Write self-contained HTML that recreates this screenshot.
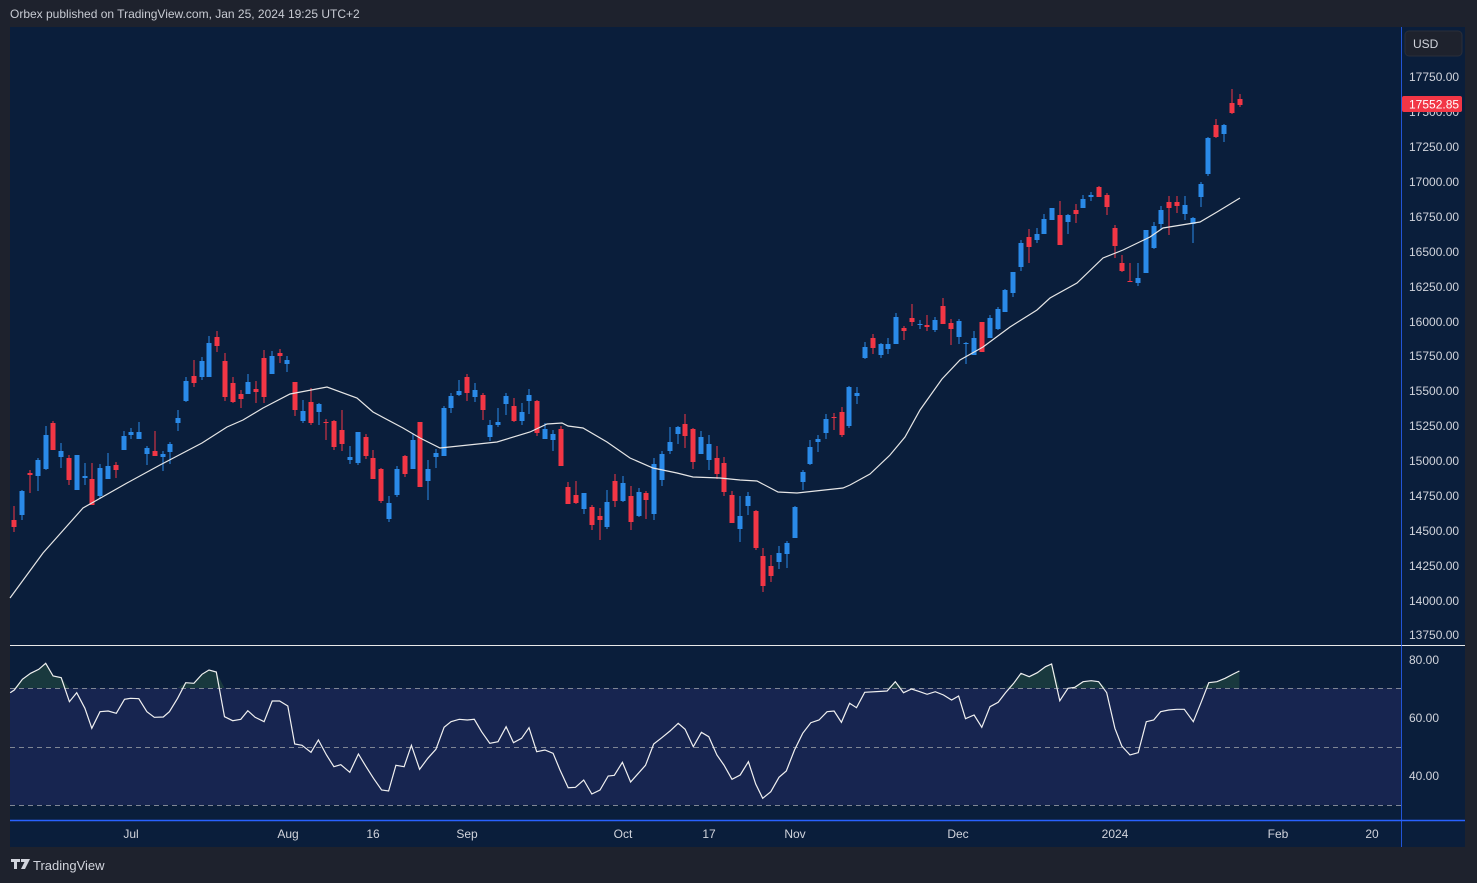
<!DOCTYPE html>
<html><head><meta charset="utf-8"><style>
html,body{margin:0;padding:0;background:#1e222d;width:1477px;height:883px;overflow:hidden;font-family:"Liberation Sans",sans-serif}
svg{position:absolute;left:0;top:0}
</style></head><body>
<svg id="s" width="1477" height="883" xmlns="http://www.w3.org/2000/svg">
<rect x="0" y="0" width="1477" height="883" fill="#1e222d"/>
<text x="10" y="18" fill="#c8cbd3" font-size="12" font-family="Liberation Sans, sans-serif">Orbex published on TradingView.com, Jan 25, 2024 19:25 UTC+2</text>
<rect x="10" y="27" width="1455" height="820" fill="#0a1e3b"/>
<rect x="10" y="688" width="1391" height="117" fill="#172550"/>
<g id="rsiob"></g>
<g stroke="#7f8694" stroke-dasharray="5,4" stroke-width="1">
<line x1="10" y1="688.5" x2="1401" y2="688.5"/>
<line x1="10" y1="747.5" x2="1401" y2="747.5"/>
<line x1="10" y1="805.5" x2="1401" y2="805.5"/>
</g>
<line x1="10" y1="645.5" x2="1465" y2="645.5" stroke="#e8e8e8" stroke-width="1"/>
<line x1="10" y1="820.5" x2="1465" y2="820.5" stroke="#2962ff" stroke-width="1.5"/>
<line x1="1401.5" y1="27" x2="1401.5" y2="847" stroke="#2962ff" stroke-width="1" opacity="0.8"/>
<g id="cand"></g>
<polyline id="ma" fill="none" stroke="#e6e6e6" stroke-width="1.2"/>
<polyline id="rsi" fill="none" stroke="#f0f0f0" stroke-width="1.2"/>
<g font-size="12" fill="#d1d4dc" font-family="Liberation Sans, sans-serif">
<text x="1409" y="81">17750.00</text>
<text x="1409" y="116">17500.00</text>
<text x="1409" y="151">17250.00</text>
<text x="1409" y="186">17000.00</text>
<text x="1409" y="221">16750.00</text>
<text x="1409" y="256">16500.00</text>
<text x="1409" y="291">16250.00</text>
<text x="1409" y="326">16000.00</text>
<text x="1409" y="360">15750.00</text>
<text x="1409" y="395">15500.00</text>
<text x="1409" y="430">15250.00</text>
<text x="1409" y="465">15000.00</text>
<text x="1409" y="500">14750.00</text>
<text x="1409" y="535">14500.00</text>
<text x="1409" y="570">14250.00</text>
<text x="1409" y="605">14000.00</text>
<text x="1409" y="639">13750.00</text>
<text x="1409" y="664">80.00</text>
<text x="1409" y="722">60.00</text>
<text x="1409" y="780">40.00</text>
</g>
<rect x="1405" y="31" width="57" height="25" rx="4" fill="#1e222d" stroke="#2a2e39"/>
<text x="1413" y="48" font-size="12" fill="#d1d4dc">USD</text>
<rect x="1402" y="96" width="60" height="16" rx="2" fill="#f23645"/>
<text x="1409" y="108.5" font-size="12" fill="#ffffff">17552.85</text>
<g font-size="12" fill="#d1d4dc" text-anchor="middle">
<text x="131" y="838">Jul</text><text x="288" y="838">Aug</text><text x="373" y="838">16</text>
<text x="467" y="838">Sep</text><text x="623" y="838">Oct</text><text x="709" y="838">17</text>
<text x="795" y="838">Nov</text><text x="958" y="838">Dec</text><text x="1115" y="838">2024</text>
<text x="1278" y="838">Feb</text><text x="1372" y="838">20</text>
</g>
<g fill="#d1d4dc"><rect x="11" y="859" width="9" height="3"/><rect x="14" y="859" width="3" height="10"/><rect x="21" y="859" width="5" height="3"/><polygon points="26,859 30,859 25,869 21,869"/></g>
<text x="33" y="870" font-size="13" fill="#d1d4dc">TradingView</text>
</svg>
<script>
var R="#f23645",B="#2a8ae8";
var c=[[14,520,527,506,532,R],[22,491,515,490,520,B],[30,473,475,470,493,R],[38,460,476,458,491,B],[46,435,469,426,470,B],[53,423,450,421,450,R],[61,451,457,443,468,B],[69,458,480,455,485,R],[77,455,490,455,490,B],[85,476,478,463,485,B],[92,479,505,463,505,R],[100,468,496,464,499,B],[108,466,479,453,479,B],[116,465,470,462,478,R],[124,436,450,431,450,B],[131,432,435,428,439,B],[139,432,439,422,439,B],[147,448,454,446,465,B],[155,451,456,431,456,R],[163,454,457,451,471,B],[170,444,452,442,464,B],[178,418,423,410,431,B],[186,381,401,377,402,B],[194,376,383,360,387,R],[202,361,377,357,380,B],[209,343,377,336,377,B],[217,337,346,331,352,R],[225,361,397,353,401,R],[233,383,402,377,403,R],[241,394,399,390,408,R],[248,382,394,374,394,B],[256,389,392,381,403,R],[264,358,397,350,403,R],[272,356,374,351,374,B],[280,353,356,349,363,R],[287,360,364,356,372,B],[295,382,410,382,416,R],[303,411,421,400,423,B],[311,402,423,388,425,R],[319,404,412,403,425,B],[326,422,423,419,440,R],[334,421,447,420,450,R],[342,430,444,410,451,R],[350,457,460,446,464,B],[358,432,463,432,465,B],[366,437,456,434,459,R],[373,458,479,450,479,R],[381,469,501,468,503,R],[389,503,519,496,522,B],[397,469,495,466,497,B],[405,456,474,455,477,R],[413,440,469,434,469,B],[420,422,487,422,487,R],[428,469,481,460,500,B],[436,453,457,449,468,B],[444,408,456,406,456,B],[451,396,408,393,413,B],[459,391,395,380,396,B],[467,377,393,374,401,R],[475,390,397,383,402,B],[483,395,410,393,420,R],[490,425,437,420,441,B],[498,422,425,408,427,B],[506,396,404,393,415,B],[514,406,421,398,422,R],[522,412,421,403,425,B],[529,395,401,389,414,B],[537,401,433,400,436,R],[545,429,439,423,439,B],[553,434,440,430,451,B],[561,429,466,426,466,R],[568,487,504,482,504,R],[576,495,503,481,504,R],[584,493,509,493,514,B],[592,507,525,505,530,R],[600,516,520,508,540,R],[607,502,527,490,529,B],[615,481,501,474,507,R],[623,483,501,476,502,B],[631,496,522,486,530,R],[639,492,516,488,517,B],[646,493,500,491,519,R],[654,464,514,458,520,B],[662,454,480,451,486,B],[670,442,451,427,454,B],[678,427,434,426,444,B],[685,424,436,414,448,R],[693,429,462,428,469,R],[701,437,454,431,454,B],[709,444,460,435,470,B],[717,458,474,446,479,R],[724,463,492,457,496,R],[732,495,523,491,523,R],[740,516,529,496,542,B],[748,496,506,492,515,B],[756,511,548,510,550,R],[763,556,586,548,592,R],[771,566,576,555,582,R],[779,553,562,546,569,B],[787,543,554,541,568,B],[795,507,538,506,538,B],[803,472,482,470,490,B],[810,447,464,440,465,B],[818,439,442,435,452,B],[826,419,433,414,439,B],[834,417,418,413,430,R],[842,412,435,407,437,R],[849,387,426,386,428,B],[857,393,396,387,404,B],[865,347,358,342,359,B],[873,338,348,334,354,R],[881,344,355,343,358,B],[888,344,349,338,354,B],[896,317,344,313,344,B],[904,328,331,326,340,R],[912,318,322,304,326,R],[920,324,325,320,329,B],[927,325,327,315,331,R],[935,320,330,317,332,B],[943,306,324,298,324,R],[951,323,329,319,345,R],[959,321,337,319,344,B],[966,343,344,342,364,B],[974,338,355,331,355,B],[982,322,352,322,352,R],[990,318,338,315,338,B],[998,309,329,307,330,B],[1005,290,312,289,312,B],[1013,272,293,272,297,B],[1021,243,267,240,271,B],[1029,237,247,229,263,R],[1037,234,240,228,243,B],[1044,219,234,214,234,B],[1052,208,220,208,220,B],[1060,215,245,201,245,R],[1068,215,222,214,234,B],[1076,210,214,204,223,R],[1083,199,208,195,208,B],[1091,195,197,192,201,B],[1099,187,197,186,197,R],[1107,195,207,193,215,R],[1115,228,246,225,258,R],[1122,263,271,255,272,R],[1130,281,282,263,282,R],[1138,278,283,263,286,B],[1146,230,273,230,273,B],[1154,226,248,222,249,B],[1161,210,224,206,230,B],[1169,202,208,196,235,R],[1177,202,206,196,213,R],[1185,205,214,196,220,B],[1193,218,224,217,243,B],[1201,184,197,182,207,B],[1208,138,174,137,176,B],[1216,125,137,119,138,R],[1224,125,134,124,142,B],[1232,103,113,89,114,R],[1240,99,105,94,107,R]];
var h="";
c.forEach(function(d){var x=d[0];var bh=Math.max(1,d[2]-d[1]);
h+='<rect x="'+(x-0.5)+'" y="'+d[3]+'" width="1" height="'+(d[4]-d[3])+'" fill="'+d[5]+'"/>';
h+='<rect x="'+(x-2.5)+'" y="'+d[1]+'" width="5" height="'+bh+'" fill="'+d[5]+'"/>';});
document.getElementById("cand").innerHTML=h;
var ma=[[10,598],[43,553],[83,508],[127,483],[160,465],[202,443],[227,427],[243,420],[263,408],[290,394],[327,387],[357,398],[373,412],[403,428],[420,438],[440,448],[497,442],[530,432],[547,424],[562,423],[568,426],[583,428],[607,442],[630,458],[653,468],[677,473],[693,477],[720,478],[740,480],[757,481],[778,492],[797,493],[843,488],[850,485],[870,474],[890,455],[905,437],[920,410],[942,379],[960,360],[983,347],[1010,327],[1037,310],[1050,298],[1077,283],[1103,258],[1123,250],[1150,237],[1163,228],[1200,222],[1217,212],[1240,198]];
document.getElementById("ma").setAttribute("points",ma.map(function(p){return p.join(",")}).join(" "));
var r1=[[0,160],[25,158],[35,150],[55,118],[75,100],[95,88],[112,70],[130,108],[150,113],[170,185],[188,158],[208,205],[225,265],[245,215],[265,213],[285,220],[305,178],[320,175],[340,176],[360,215],[378,232],[400,231],[415,215],[435,175],[455,128],[475,130],[495,103],[512,90],[530,96],[550,230],[570,242],[590,238],[607,212],[625,232],[647,245],[667,183],[685,183],[705,198],[722,312],[740,316],[762,337],[780,300],[800,345],[818,380],[835,374],[857,397],[878,342],[897,380],[915,415],[935,450],[952,453],[970,376],[990,380],[1008,316],[1028,388],[1048,355],[1068,328],[1088,262],[1105,245],[1125,238],[1145,240],[1162,238],[1180,275],[1200,310],[1220,305],[1240,260],[1258,308],[1278,295],[1296,263],[1315,335],[1335,330],[1355,340],[1372,390],[1392,443],[1410,442],[1430,420],[1450,462],[1470,450],[1490,408],[1505,406],[1525,367],[1545,426]];
var r2=[[0,425],[20,365],[38,376],[58,312],[78,293],[98,273],[118,250],[135,268],[155,320],[175,277],[193,290],[213,345],[230,375],[250,418],[270,405],[290,365],[308,432],[325,475],[345,455],[365,412],[383,393],[403,330],[423,280],[443,248],[463,240],[483,215],[500,213],[518,247],[538,190],[555,203],[575,157],[630,153],[650,125],[670,158],[690,147],[710,155],[728,163],[748,155],[768,165],[788,180],[805,168],[822,236],[843,225],[862,262],[882,200],[902,187],[920,158],[940,130],[958,100],[978,110],[998,98],[1018,80],[1033,72],[1053,182],[1073,145],[1090,142],[1110,125],[1130,122],[1148,125],[1168,158],[1188,265],[1205,318],[1225,345],[1245,338],[1265,245],[1283,240],[1300,215],[1320,210],[1340,208],[1358,208],[1380,245],[1400,185],[1418,128],[1438,125],[1458,115],[1478,102],[1493,93]];
var pts=[];
r1.forEach(function(p){var x=p[0]/2.45;if(x>=10)pts.push([x,640+p[1]/3]);});
r2.forEach(function(p){var x=630+p[0]/2.45;if(x>640)pts.push([x,640+p[1]/3]);});
pts.sort(function(a,b){return a[0]-b[0]});
document.getElementById("rsi").setAttribute("points",pts.map(function(p){return p[0].toFixed(1)+","+p[1].toFixed(1)}).join(" "));
// overbought fill
var ob="",seg=[];
function flush(){if(seg.length>1){var s=seg.map(function(p){return p[0].toFixed(1)+","+Math.min(p[1],688).toFixed(1)}).join(" ");ob+='<polygon points="'+seg[0][0].toFixed(1)+',688 '+s+' '+seg[seg.length-1][0].toFixed(1)+',688" fill="#1d4040" opacity="0.8"/>';}seg=[];}
for(var i=0;i<pts.length;i++){if(pts[i][1]<688){if(seg.length==0&&i>0)seg.push(pts[i-1]);seg.push(pts[i]);}else{if(seg.length){seg.push(pts[i]);flush();}}}
flush();
document.getElementById("rsiob").innerHTML=ob;
</script>
</body></html>
